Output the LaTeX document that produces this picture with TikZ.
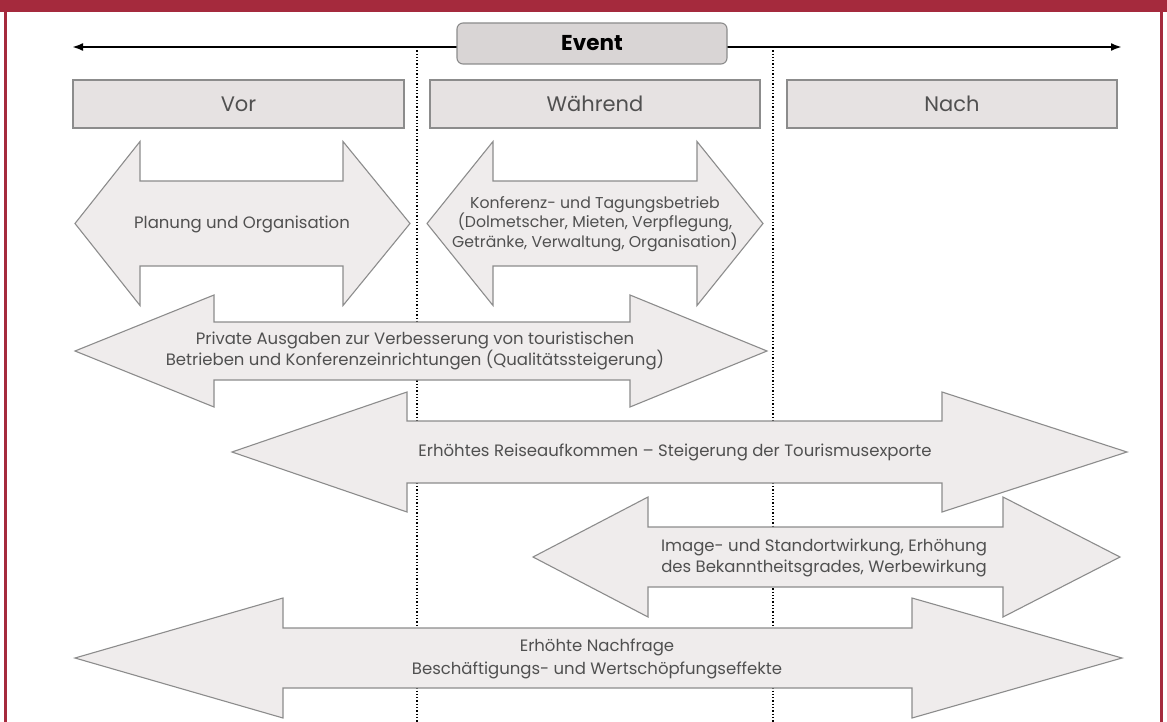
\documentclass[tikz,border=0pt]{standalone}
\usepackage{fontspec}
\setmainfont{Poppins}
\usetikzlibrary{arrows.meta}
\definecolor{framered}{HTML}{A52A3D}
\definecolor{arrowfill}{HTML}{EFECEC}
\definecolor{boxfill}{HTML}{E6E2E2}
\definecolor{eventfill}{HTML}{D9D5D5}
\definecolor{edgegray}{HTML}{8C8C8C}
\definecolor{txtgray}{HTML}{505050}
% #1 x1, #2 x2, #3 yc, #4 shaft half, #5 head half, #6 left head length, #7 right head length
\newcommand{\dblarrowshape}[7]{%
  \path[dblarrow] (#1,#3) -- (#1+#6,#3-#5) -- (#1+#6,#3-#4) -- (#2-#7,#3-#4) -- (#2-#7,#3-#5)
    -- (#2,#3) -- (#2-#7,#3+#5) -- (#2-#7,#3+#4) -- (#1+#6,#3+#4) -- (#1+#6,#3+#5) -- cycle;}
\begin{document}
\begin{tikzpicture}[x=1pt,y=-1pt,
  dblarrow/.style={fill=arrowfill,draw=edgegray,line width=1.1pt,line join=miter},
  arrowlabel/.style={align=center,text=txtgray,font=\fontsize{16.5}{21}\selectfont,inner sep=0pt},
  phasebox/.style={draw=edgegray,fill=boxfill,line width=1.1pt,minimum height=48pt,
    text=txtgray,font=\fontsize{21}{24}\selectfont},
  eventbox/.style={draw=edgegray,fill=eventfill,line width=1.1pt,rounded corners=6pt,
    minimum width=270pt,minimum height=41pt,font=\fontsize{21.5}{24}\selectfont\bfseries},
  phaseline/.style={dotted,line width=1.3pt,black},
  timeline/.style={line width=2.4pt,black,{Latex[length=11pt,width=8pt]}-{Latex[length=11pt,width=8pt]}}]
\useasboundingbox (0,0) rectangle (1167,722);
\fill[white] (0,0) rectangle (1167,722);
% frame
\fill[framered] (0,0) rectangle (1167,12);
\fill[framered] (4,0) rectangle (7,722);
\fill[framered] (1160,0) rectangle (1163,722);
% time axis
\coordinate (tl) at (72,47);
\coordinate (tr) at (1122,47);
\draw[timeline] (tl) -- (tr);
\node[eventbox] (event) at (592,43.5) {Event};
% dotted phase separators
\coordinate (s1t) at (417,47);
\coordinate (s1b) at (417,722);
\coordinate (s2t) at (773,47);
\coordinate (s2b) at (773,722);
\draw[phaseline] (s1t) -- (s1b);
\draw[phaseline] (s2t) -- (s2b);
% phase boxes
\node[phasebox,minimum width=331pt] (vor) at (238.5,104) {Vor};
\node[phasebox,minimum width=330pt] (waehrend) at (595,104) {Während};
\node[phasebox,minimum width=330pt] (nach) at (952,104) {Nach};
% double arrows
\dblarrowshape{75}{410}{223.5}{42.5}{82}{65}{67}
\node[arrowlabel] (planung) at (242,224) {Planung und Organisation};
\dblarrowshape{427}{763}{223.5}{42.5}{82}{66}{66}
\node[arrowlabel,font=\fontsize{15.7}{19.5}\selectfont] (konferenz) at (595,224) {Konferenz- und Tagungsbetrieb\\(Dolmetscher, Mieten, Verpflegung,\\Getränke, Verwaltung, Organisation)};
\dblarrowshape{75}{767}{351}{29}{56}{139}{137}
\node[arrowlabel] (private) at (415,351) {Private Ausgaben zur Verbesserung von touristischen\\Betrieben und Konferenzeinrichtungen (Qualitätssteigerung)};
\dblarrowshape{232}{1127}{452}{31}{60}{175}{185}
\node[arrowlabel] (reise) at (675,452) {Erhöhtes Reiseaufkommen – Steigerung der Tourismusexporte};
\dblarrowshape{533}{1120}{557}{30}{60}{115}{117}
\node[arrowlabel] (image) at (824,558) {Image- und Standortwirkung, Erhöhung\\des Bekanntheitsgrades, Werbewirkung};
\dblarrowshape{75}{1122}{658}{30}{60}{208}{210}
\node[arrowlabel,font=\fontsize{16.5}{23}\selectfont] (nachfrage) at (597,659) {Erhöhte Nachfrage\\Beschäftigungs- und Wertschöpfungseffekte};
\end{tikzpicture}
\end{document}
